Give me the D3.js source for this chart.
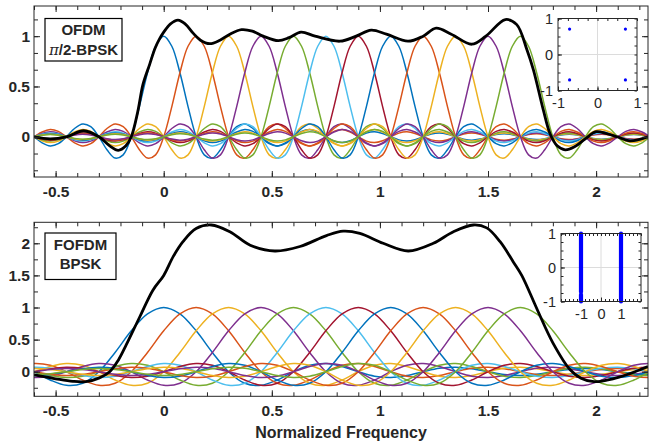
<!DOCTYPE html>
<html>
<head>
<meta charset="utf-8">
<script src="https://cdn.jsdelivr.net/npm/d3@7"></script>
<style>
body { margin: 0; background: #fff; }
text { font-family: "Liberation Sans", Arial, sans-serif; fill: #262626; }
</style>
</head>
<body>
<script>
// subcarrier centres (normalized frequency) and MATLAB colour order
var centers = [0, 0.15, 0.3, 0.45, 0.6, 0.75, 0.9, 1.05, 1.2, 1.35, 1.5, 1.65];
var colors = ["#0072BD", "#D95319", "#EDB120", "#7E2F8E", "#77AC30", "#4DBEEE", "#A2142F"];

// one subcarrier spectrum, read at quarter steps of its zero spacing (0 .. 20)
var pulseStep = 0.25;
var pulseShape = [1, 0.900, 0.637, 0.300, 0,
  -0.180, -0.212, -0.129, 0,
  0.100, 0.127, 0.082, 0,
  -0.069, -0.091, -0.060, 0,
  0.053, 0.071, 0.047, 0,
  -0.043, -0.058, -0.039, 0,
  0.036, 0.049, 0.033, 0,
  -0.031, -0.042, -0.029, 0,
  0.027, 0.037, 0.026, 0,
  -0.024, -0.034, -0.023, 0,
  0.022, 0.030, 0.021, 0,
  -0.020, -0.028, -0.019, 0,
  0.018, 0.025, 0.018, 0,
  -0.017, -0.024, -0.016, 0,
  0.016, 0.022, 0.015, 0,
  -0.015, -0.021, -0.014, 0,
  0.014, 0.019, 0.013, 0,
  -0.013, -0.018, -0.013, 0,
  0.012, 0.017, 0.012, 0,
  -0.012, -0.016, -0.011, 0];

// zero spacing of each subcarrier in the two panels
var ofdmZeroSpacing = 0.15;
var fofdmZeroSpacing = 0.3;

// black (total) curves, [frequency, value]
var ofdmTotal = [[-0.6, 0], [-0.525, -0.02], [-0.45, 0], [-0.37, 0.06], [-0.3, 0], [-0.25, -0.09],
  [-0.21, -0.135], [-0.175, -0.09], [-0.15, 0], [-0.12, 0.25], [-0.096, 0.52], [-0.065, 0.72],
  [-0.04, 0.88], [-0.02, 0.97], [0, 1.04], [0.03, 1.12], [0.066, 1.16], [0.1, 1.12], [0.136, 1.03],
  [0.17, 0.96], [0.213, 0.925], [0.26, 0.96], [0.306, 1.02], [0.36, 1.065], [0.41, 1.05], [0.46, 1.0],
  [0.53, 0.955], [0.58, 0.985], [0.635, 1.04], [0.7, 1.0], [0.815, 0.95], [0.89, 1.0], [0.96, 1.06],
  [1.03, 1.02], [1.13, 0.95], [1.2, 1.0], [1.26, 1.08], [1.33, 1.02], [1.425, 0.92], [1.49, 1.0],
  [1.58, 1.165], [1.633, 1.115], [1.68, 0.865], [1.71, 0.665], [1.756, 0.265], [1.787, 0.03],
  [1.82, -0.09], [1.857, -0.13], [1.9, -0.1], [1.95, -0.02], [2.0, 0.05], [2.05, 0.03], [2.096, 0],
  [2.157, -0.04], [2.24, 0]];
var fofdmTotal = [[-0.6, -0.05], [-0.5, -0.11], [-0.42, -0.15], [-0.36, -0.155], [-0.3, -0.1],
  [-0.25, 0], [-0.21, 0.18], [-0.173, 0.42], [-0.11, 0.86], [-0.05, 1.27], [0, 1.5], [0.045, 1.8],
  [0.09, 2.03], [0.15, 2.23], [0.22, 2.285], [0.306, 2.18], [0.4, 1.97], [0.514, 1.88], [0.63, 1.95],
  [0.753, 2.12], [0.83, 2.19], [0.907, 2.155], [1.015, 2.0], [1.131, 1.88], [1.247, 2.0], [1.34, 2.18],
  [1.432, 2.285], [1.494, 2.24], [1.556, 2.025], [1.617, 1.71], [1.656, 1.5], [1.73, 0.95], [1.8, 0.45],
  [1.88, 0.03], [1.93, -0.1], [1.99, -0.155], [2.05, -0.13], [2.11, -0.08], [2.18, 0], [2.24, 0.08]];

// constellations
var qpskI = [-0.707, 0.707, -0.707, 0.707];
var qpskQ = [0.707, 0.707, -0.707, -0.707];
var bpskBars = [{i: -1, q0: -1, q1: -0.8}, {i: -1, q0: -0.72, q1: 1}, {i: 1, q0: -1, q1: 1}];

var xTicks = [-0.5, 0, 0.5, 1, 1.5, 2];
var plain = function(d) { return String(d); };

var width = 649, height = 447;
var svg = d3.select("body").append("svg")
  .attr("width", width).attr("height", height);

var x = d3.scaleLinear().domain([-0.6, 2.24]).range([34, 648]);

function pulseCurve(c, spacing) {
  var pts = [];
  var n = pulseShape.length - 1;
  for (var k = -n; k <= n; k++) {
    pts.push([c + k * pulseStep * spacing, pulseShape[Math.abs(k)]]);
  }
  return pts;
}

function drawPanel(opt) {
  var y = d3.scaleLinear().domain(opt.yDomain).range([opt.bottom, opt.top]);
  var g = svg.append("g");
  var clipId = "clip" + opt.name;
  svg.append("clipPath").attr("id", clipId).append("rect")
    .attr("x", 34).attr("y", opt.top).attr("width", 614).attr("height", opt.bottom - opt.top);

  var line = d3.line()
    .x(function(d) { return x(d[0]); })
    .y(function(d) { return y(d[1]); })
    .curve(d3.curveCatmullRom);

  var plot = g.append("g").attr("clip-path", "url(#" + clipId + ")");
  centers.forEach(function(c, i) {
    plot.append("path")
      .datum(pulseCurve(c, opt.spacing))
      .attr("fill", "none")
      .attr("stroke", colors[i % colors.length])
      .attr("stroke-width", 1.5)
      .attr("d", line);
  });
  plot.append("path")
    .datum(opt.total)
    .attr("fill", "none")
    .attr("stroke", "#000")
    .attr("stroke-width", 2.8)
    .attr("d", line);

  // axes: ticks point inward, mirrored on all sides
  var minorX = d3.range(-0.6, 2.25, 0.1).map(function(v) { return +v.toFixed(2); });
  g.append("g").attr("transform", "translate(0," + opt.bottom + ")")
    .call(d3.axisBottom(x).tickValues(minorX).tickFormat("").tickSizeInner(-4).tickSizeOuter(0));
  g.append("g").attr("transform", "translate(0," + opt.top + ")")
    .call(d3.axisTop(x).tickValues(minorX).tickFormat("").tickSizeInner(-4).tickSizeOuter(0));
  g.append("g").attr("transform", "translate(0," + opt.bottom + ")")
    .call(d3.axisBottom(x).tickValues(xTicks).tickFormat(plain).tickSizeInner(-6).tickSizeOuter(0).tickPadding(9));
  g.append("g").attr("transform", "translate(0," + opt.top + ")")
    .call(d3.axisTop(x).tickValues(xTicks).tickFormat("").tickSizeInner(-6).tickSizeOuter(0));

  g.append("g").attr("transform", "translate(34,0)")
    .call(d3.axisLeft(y).tickValues(opt.yMinor).tickFormat("").tickSizeInner(-4).tickSizeOuter(0));
  g.append("g").attr("transform", "translate(648,0)")
    .call(d3.axisRight(y).tickValues(opt.yMinor).tickFormat("").tickSizeInner(-4).tickSizeOuter(0));
  g.append("g").attr("transform", "translate(34,0)")
    .call(d3.axisLeft(y).tickValues(opt.yTicks).tickFormat(plain).tickSizeInner(-6).tickSizeOuter(0).tickPadding(4));
  g.append("g").attr("transform", "translate(648,0)")
    .call(d3.axisRight(y).tickValues(opt.yTicks).tickFormat("").tickSizeInner(-6).tickSizeOuter(0));

  g.selectAll(".domain").remove();
  g.selectAll(".tick line").attr("stroke", "#262626");
  g.selectAll(".tick text")
    .style("font-size", "15.5px").style("font-weight", "bold")
    .attr("fill", "#262626");

  g.append("rect")
    .attr("x", 34).attr("y", opt.top).attr("width", 614).attr("height", opt.bottom - opt.top)
    .attr("fill", "none").attr("stroke", "#262626").attr("stroke-width", 1);

  // label box
  var lb = opt.label;
  g.append("rect").attr("x", lb.x).attr("y", lb.y).attr("width", lb.w).attr("height", lb.h)
    .attr("fill", "#fff").attr("stroke", "#000").attr("stroke-width", 1.2);
  g.append("text").attr("x", lb.x + lb.w / 2).attr("y", lb.y + 16.5)
    .attr("text-anchor", "middle").style("font-size", "15px").style("font-weight", "bold")
    .attr("fill", "#000").text(lb.lines[0]);
  var t2 = g.append("text").attr("x", lb.x + lb.w / 2).attr("y", lb.y + 36)
    .attr("text-anchor", "middle").style("font-size", "15px").style("font-weight", "bold")
    .attr("fill", "#000");
  if (lb.lines[1].indexOf("π") === 0) {
    t2.append("tspan").style("font-family", "'DejaVu Serif', serif").style("font-weight", "normal")
      .style("font-style", "italic").text("π");
    t2.append("tspan").text(lb.lines[1].slice(1));
  } else {
    t2.text(lb.lines[1]);
  }
  return y;
}

drawPanel({
  name: "top", yDomain: [-0.4, 1.3], top: 6, bottom: 177, spacing: ofdmZeroSpacing,
  total: ofdmTotal, yTicks: [0, 0.5, 1],
  yMinor: d3.range(-2, 8).map(function(k) { return k / 6; }),
  label: {x: 45, y: 18.5, w: 77, h: 42.5, lines: ["OFDM", "π/2-BPSK"]}
});
drawPanel({
  name: "bottom", yDomain: [-0.383, 2.327], top: 222.3, bottom: 396.3, spacing: fofdmZeroSpacing,
  total: fofdmTotal, yTicks: [0, 0.5, 1, 1.5, 2],
  yMinor: d3.range(-0.25, 2.3, 0.25),
  label: {x: 45, y: 233, w: 71, h: 46.5, lines: ["FOFDM", "BPSK"]}
});

// insets
function drawInset(opt) {
  var ix = d3.scaleLinear().domain(opt.xDomain).range([opt.x0, opt.x1]);
  var iy = d3.scaleLinear().domain([-1, 1]).range([opt.y1, opt.y0]);
  var g = svg.append("g");
  g.append("rect").attr("x", opt.x0).attr("y", opt.y0)
    .attr("width", opt.x1 - opt.x0).attr("height", opt.y1 - opt.y0).attr("fill", "#fff");
  g.append("line").attr("x1", ix(0)).attr("x2", ix(0)).attr("y1", opt.y0).attr("y2", opt.y1)
    .attr("stroke", "#dcdcdc").attr("stroke-width", 1);
  g.append("line").attr("x1", opt.x0).attr("x2", opt.x1).attr("y1", iy(0)).attr("y2", iy(0))
    .attr("stroke", "#dcdcdc").attr("stroke-width", 1);

  g.append("g").attr("transform", "translate(0," + opt.y1 + ")")
    .call(d3.axisBottom(ix).tickValues(opt.xMinor).tickFormat("").tickSizeInner(-2.5).tickSizeOuter(0));
  g.append("g").attr("transform", "translate(0," + opt.y0 + ")")
    .call(d3.axisTop(ix).tickValues(opt.xMinor).tickFormat("").tickSizeInner(-2.5).tickSizeOuter(0));
  g.append("g").attr("transform", "translate(" + opt.x0 + ",0)")
    .call(d3.axisLeft(iy).tickValues(opt.yMinor).tickFormat("").tickSizeInner(-2.5).tickSizeOuter(0));
  g.append("g").attr("transform", "translate(" + opt.x1 + ",0)")
    .call(d3.axisRight(iy).tickValues(opt.yMinor).tickFormat("").tickSizeInner(-2.5).tickSizeOuter(0));
  g.append("g").attr("transform", "translate(0," + opt.y1 + ")")
    .call(d3.axisBottom(ix).tickValues([-1, 0, 1]).tickFormat(plain).tickSizeInner(-4).tickSizeOuter(0).tickPadding(7));
  g.append("g").attr("transform", "translate(" + opt.x0 + ",0)")
    .call(d3.axisLeft(iy).tickValues([-1, 0, 1]).tickFormat(plain).tickSizeInner(-4).tickSizeOuter(0).tickPadding(5));
  g.selectAll(".domain").remove();
  g.selectAll(".tick line").attr("stroke", "#262626");
  g.selectAll(".tick text").style("font-size", "14.5px").attr("fill", "#262626");

  opt.draw(g, ix, iy);

  g.append("rect").attr("x", opt.x0).attr("y", opt.y0)
    .attr("width", opt.x1 - opt.x0).attr("height", opt.y1 - opt.y0)
    .attr("fill", "none").attr("stroke", "#262626").attr("stroke-width", 1);
}

drawInset({
  xDomain: [-1, 1], x0: 558, x1: 637, y0: 18.5, y1: 90.5,
  xMinor: d3.range(-1, 1.01, 0.25), yMinor: d3.range(-1, 1.01, 0.25),
  draw: function(g, ix, iy) {
    g.selectAll("circle").data(qpskI).enter().append("circle")
      .attr("cx", function(d) { return ix(d); })
      .attr("cy", function(d, i) { return iy(qpskQ[i]); })
      .attr("r", 1.6).attr("fill", "#0000FF");
  }
});
drawInset({
  xDomain: [-2, 2], x0: 561, x1: 641, y0: 233.5, y1: 301.5,
  xMinor: d3.range(-2, 2.01, 0.2), yMinor: d3.range(-1, 1.01, 0.25),
  draw: function(g, ix, iy) {
    g.selectAll(".bar").data(bpskBars).enter().append("line")
      .attr("x1", function(d) { return ix(d.i); })
      .attr("x2", function(d) { return ix(d.i); })
      .attr("y1", function(d) { return iy(d.q0); })
      .attr("y2", function(d) { return iy(d.q1); })
      .attr("stroke", "#0000FF").attr("stroke-width", 4.2).attr("stroke-linecap", "round");
  }
});

svg.append("text")
  .attr("x", 341).attr("y", 438)
  .attr("text-anchor", "middle")
  .style("font-size", "16px").style("font-weight", "bold")
  .text("Normalized Frequency");
</script>
</body>
</html>
